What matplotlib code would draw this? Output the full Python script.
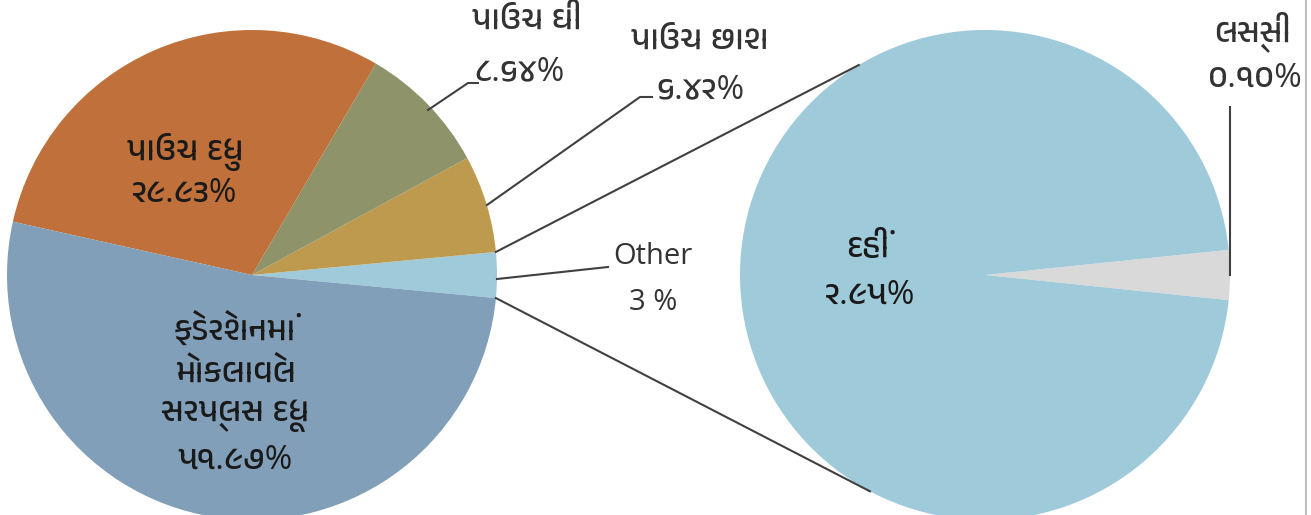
import numpy as np
import matplotlib
matplotlib.use("Agg")
import matplotlib.pyplot as plt
from matplotlib import font_manager, ft2font

# find a font that has Gujarati glyphs, proportional ones first
guj = []
for f in font_manager.fontManager.ttflist:
    try:
        cm = ft2font.FT2Font(f.fname).get_charmap()
    except Exception:
        continue
    if 0x0AAA in cm and f.name not in guj:
        guj.append(f.name)
guj.sort(key=lambda n: ('Mono' in n, n))
plt.rcParams['font.family'] = ['Open Sans'] + guj + ['DejaVu Sans']

# data
main_labels = ["Other", "પાઉચ છાશ", "પાઉચ ઘી", "પાઉચ દુધ", "ફેડરેશનમાં\nમોકલાવેલ\nસરપ્લસ દૂધ"]
main_values = [3.0, 6.42, 8.64, 29.93, 51.97]
main_pct = ["3 %", "૬.૪૨%", "૮.૬૪%", "૨૯.૯૩%", "૫૧.૯૭%"]
main_colors = ["#9FCAD9", "#BE9A4E", "#8E936A", "#C0703A", "#819FB8"]

sub_labels = ["લસ્સી", "દહીં"]
sub_values = [0.10, 2.95]
sub_pct = ["૦.૧૦%", "૨.૯૫%"]
sub_colors = ["#D9D9D9", "#9FCAD9"]

W, H = 1311, 515
fig = plt.figure(figsize=(W / 100, H / 100), dpi=100)
ax = fig.add_axes([0, 0, 1, 1])

def py(y):
    return H - y

c1 = (252, py(275))
c2 = (985, py(275))
r = 245

start1 = -main_values[0] / sum(main_values) * 180
ax.pie(main_values, colors=main_colors, startangle=start1, counterclock=True,
       center=c1, radius=r, frame=True, wedgeprops=dict(linewidth=0))
start2 = -sub_values[0] / sum(sub_values) * 180
ax.pie(sub_values, colors=sub_colors, startangle=start2, counterclock=True,
       center=c2, radius=r, frame=True, wedgeprops=dict(linewidth=0))
ax.set_xlim(0, W)
ax.set_ylim(0, H)
ax.set_aspect('auto')
ax.axis('off')

# connector lines between the pies
a = np.deg2rad(-start1)
lc = "#404040"
p_top = (c1[0] + r * np.cos(a), c1[1] + r * np.sin(a))
p_bot = (c1[0] + r * np.cos(-a), c1[1] + r * np.sin(-a))
q_top = (c2[0] + r * np.cos(np.deg2rad(121)), c2[1] + r * np.sin(np.deg2rad(121)))
q_bot = (c2[0] + r * np.cos(np.deg2rad(242)), c2[1] + r * np.sin(np.deg2rad(242)))
ax.plot([p_top[0], q_top[0]], [p_top[1], q_top[1]], color=lc, lw=1.5)
ax.plot([p_bot[0], q_bot[0]], [p_bot[1], q_bot[1]], color=lc, lw=1.5)

fs = 24
dark = '#1a1a1a'
txt = '#333333'
# labels inside
ax.text(185, py(152), main_labels[3], ha='center', va='center', fontsize=fs, color=dark)
ax.text(185, py(193), main_pct[3], ha='center', va='center', fontsize=fs, color=dark)
for i, line in enumerate(main_labels[4].split('\n')):
    ax.text(235, py(330 + 43 * i), line, ha='center', va='center', fontsize=fs, color=dark)
ax.text(235, py(460), main_pct[4], ha='center', va='center', fontsize=fs, color=dark)
ax.text(868, py(248), sub_labels[1], ha='center', va='center', fontsize=fs, color=dark)
ax.text(870, py(295), sub_pct[1], ha='center', va='center', fontsize=fs, color=dark)

# outside labels with leader lines
ax.text(527, py(20), main_labels[2], ha='center', va='center', fontsize=fs, color=txt)
ax.text(520, py(72), main_pct[2], ha='center', va='center', fontsize=fs, color=txt)
ax.plot([428, 468, 478], [py(110), py(83), py(83)], color=lc, lw=1.5)

ax.text(700, py(40), main_labels[1], ha='center', va='center', fontsize=fs, color=txt)
ax.text(700, py(90), main_pct[1], ha='center', va='center', fontsize=fs, color=txt)
ax.plot([487, 640, 652], [py(205), py(97), py(97)], color=lc, lw=1.5)

ax.text(653, py(257), main_labels[0], ha='center', va='center', fontsize=21, color=txt)
ax.text(653, py(302), main_pct[0], ha='center', va='center', fontsize=21, color=txt)
ax.plot([497, 608], [py(279), py(267)], color=lc, lw=1.5)

ax.text(1252, py(32), sub_labels[0], ha='center', va='center', fontsize=fs, color=txt)
ax.text(1255, py(78), sub_pct[0], ha='center', va='center', fontsize=fs, color=txt)
ax.plot([1230, 1230], [py(107), py(275)], color=lc, lw=1.5)

# thin frame edge on the right
ax.plot([1306, 1306], [0, H], color='#BFBFBF', lw=1.5)

fig.savefig("out.png", dpi=100)
